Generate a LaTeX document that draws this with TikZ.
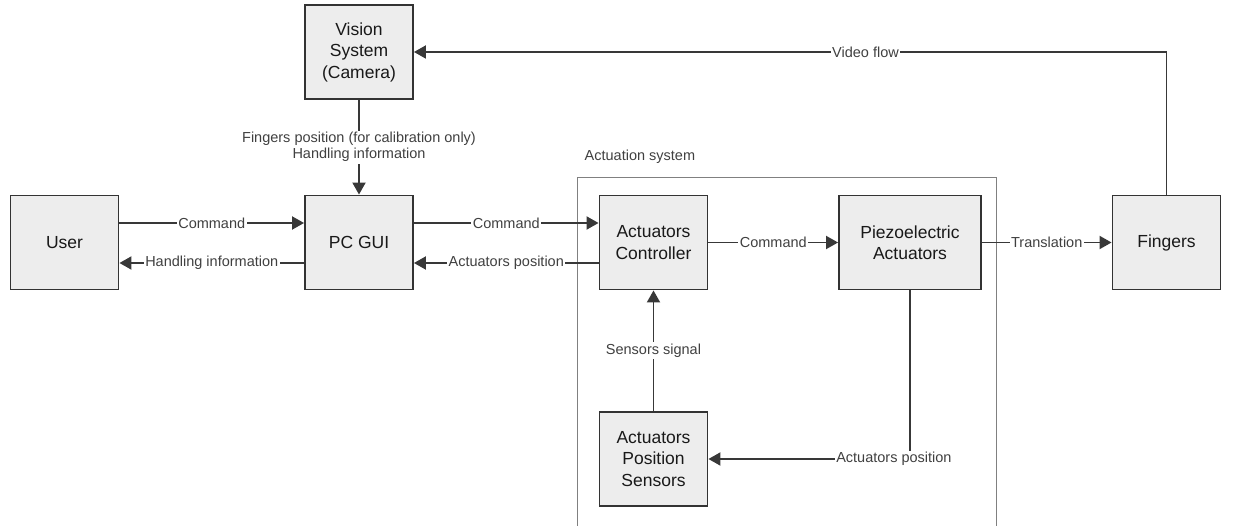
\documentclass[tikz,border=0pt]{standalone}
\usepackage{fontspec}
\setmainfont{Liberation Sans}
\usetikzlibrary{arrows.meta}
\tikzset{block/.style={draw=black!80,fill=black!7,line width=1.9pt,minimum width=108pt,minimum height=94pt,
  inner sep=2pt,align=center,text=black!90,font=\fontsize{17.5}{21.5}\selectfont},
 flow/.style={-{Triangle[length=12pt,width=13pt]},line width=1.9pt,draw=black!78},
 lbl/.style={fill=white,inner sep=1.5pt,text=black!75,align=center,font=\fontsize{14.5}{16}\selectfont}}

\begin{document}
\begin{tikzpicture}[x=1pt,y=-1pt]
 \useasboundingbox (0,0) rectangle (1240,526);
 % actuation system frame
 \draw[black!50,line width=1pt] (577,530)--(577,178)--(996,178)--(996,530);
 \node[lbl,anchor=west,fill=none] (actlbl) at (583,157) {Actuation system};
 % blocks
 \node[block] (vision) at (359,52) {Vision\\System\\(Camera)};
 \node[block] (user) at (64.5,242.5) {User};
 \node[block] (pcgui) at (359,242.5) {PC GUI};
 \node[block] (ctrl) at (653.5,242.5) {Actuators\\Controller};
 \node[block,minimum width=142pt] (piezo) at (910,242.5) {Piezoelectric\\Actuators};
 \node[block] (fingers) at (1166.5,242.5) {Fingers};
 \node[block] (sensors) at (653.5,459) {Actuators\\Position\\Sensors};
 % connectors
 \draw[flow] (vision) -- node[lbl] {Fingers position (for calibration only)\\Handling information} (pcgui);
 \draw[flow] ([yshift=19.5pt]user.east) -- node[lbl] {Command} ([yshift=19.5pt]pcgui.west);
 \draw[flow] ([yshift=-20.5pt]pcgui.west) -- node[lbl] {Handling information} ([yshift=-20.5pt]user.east);
 \draw[flow] ([yshift=19.5pt]pcgui.east) -- node[lbl] {Command} ([yshift=19.5pt]ctrl.west);
 \draw[flow] ([yshift=-20.5pt]ctrl.west) -- node[lbl] {Actuators position} ([yshift=-20.5pt]pcgui.east);
 \draw[flow] (ctrl) -- node[lbl] {Command} (piezo);
 \draw[flow] (piezo) -- node[lbl] {Translation} (fingers);
 \draw[flow] (sensors) -- node[lbl] {Sensors signal} (ctrl);
 \draw[flow] (piezo.south) |- node[lbl,pos=0.54] {Actuators position} (sensors.east);
 \draw[flow] (fingers.north) |- node[lbl,pos=0.70] {Video flow} (vision.east);
\end{tikzpicture}
\end{document}
